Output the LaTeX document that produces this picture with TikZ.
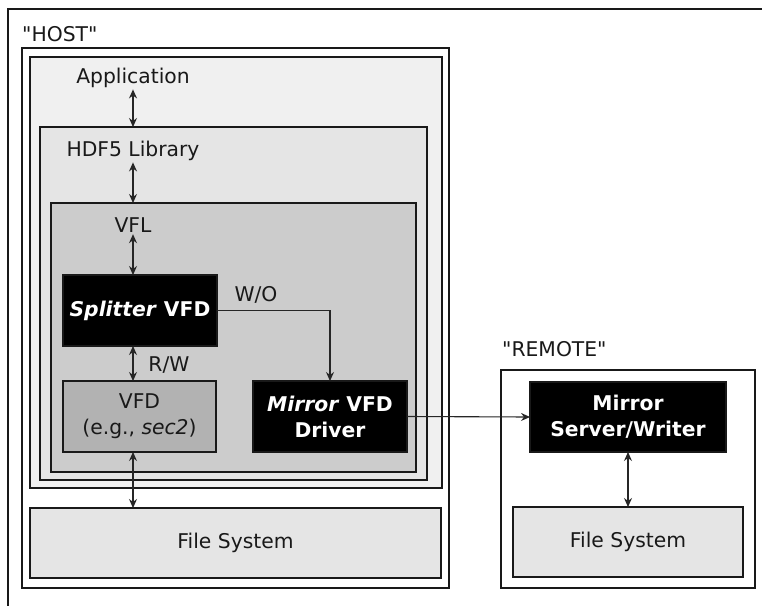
\documentclass[tikz,border=0pt]{standalone}
\usepackage{fontspec}
\setmainfont{DejaVu Sans}[Ligatures=TeXOff]
\usetikzlibrary{arrows.meta}
\begin{document}
\begin{tikzpicture}[x=1pt,y=-1pt,
  font=\fontsize{20.3}{26}\selectfont,
  box/.style={draw=black!90, line width=1.9pt, inner sep=0pt, outer sep=0pt, anchor=north west, align=center},
  blk/.style={box, fill=black, text=white, font=\fontsize{20.3}{26}\selectfont\bfseries},
  lbl/.style={inner sep=2pt, anchor=base, text=black!90},
  tip/.tip={Stealth[length=9pt,width=8pt,inset=3pt]},
  arr/.style={line width=1.1pt, black!85, -tip},
  darr/.style={line width=1.1pt, black!85, tip-tip},
]
\clip (0,0) rectangle (762,605);
\fill[white] (0,0) rectangle (762,605);
% outer frame (cut by the picture's edges)
\draw[line width=2.4pt, black!90] (8,640) |- (800,9);

% host side
\node[box, fill=white, minimum width=427, minimum height=540] (hostbox) at (22,48) {};
\node[box, fill=black!6, minimum width=412, minimum height=431] (appbox) at (30,57) {};
\node[box, fill=black!10, minimum width=387, minimum height=353] (hdfbox) at (40,127) {};
\node[box, fill=black!20, minimum width=365, minimum height=269] (vflbox) at (51,203) {};
\node[blk, minimum width=154, minimum height=71] (split) at (63,275) {\textit{Splitter} VFD};
\node[box, fill=black!30, text=black!90, minimum width=153, minimum height=71] (vfd) at (63,381) {VFD\\(e.g., \textit{sec2})};
\node[blk, minimum width=154, minimum height=71] (mirror) at (253,381) {\textit{Mirror} VFD\\Driver};
\node[box, fill=black!10, text=black!90, minimum width=411, minimum height=70] (hostfs) at (30,508) {File System};

% remote side
\node[box, fill=white, minimum width=254, minimum height=218] (remotebox) at (501,370) {};
\node[blk, minimum width=196, minimum height=70] (server) at (530,382) {Mirror\\Server/Writer};
\node[box, fill=black!10, text=black!90, minimum width=230, minimum height=70] (remotefs) at (513,507) {File System};

% labels
\node[lbl, anchor=base west] (host) at (20,41) {"HOST"};
\node[lbl, anchor=base west] (remote) at (500,356) {"REMOTE"};
\node[lbl] (app) at (133,83) {Application};
\node[lbl] (hdf) at (133,156) {HDF5 Library};
\node[lbl] (vfl) at (133,232) {VFL};
\node[lbl] (wo) at (256,301) {W/O};
\node[lbl] (rw) at (169,371) {R/W};

% connectors
\draw[darr] (app.south) -- (app.south |- hdfbox.north);
\draw[darr] (hdf.south) -- (hdf.south |- vflbox.north);
\draw[darr] (vfl.south) -- (vfl.south |- split.north);
\draw[darr] (vfl.south |- split.south) -- (vfl.south |- vfd.north);
\draw[darr] (vfl.south |- vfd.south) -- (vfl.south |- hostfs.north);
\draw[arr] (split.east) -| (mirror.north);
\draw[arr] (mirror.east) -- (server.west);
\draw[darr] (server.south) -- (remotefs.north);
\end{tikzpicture}
\end{document}
